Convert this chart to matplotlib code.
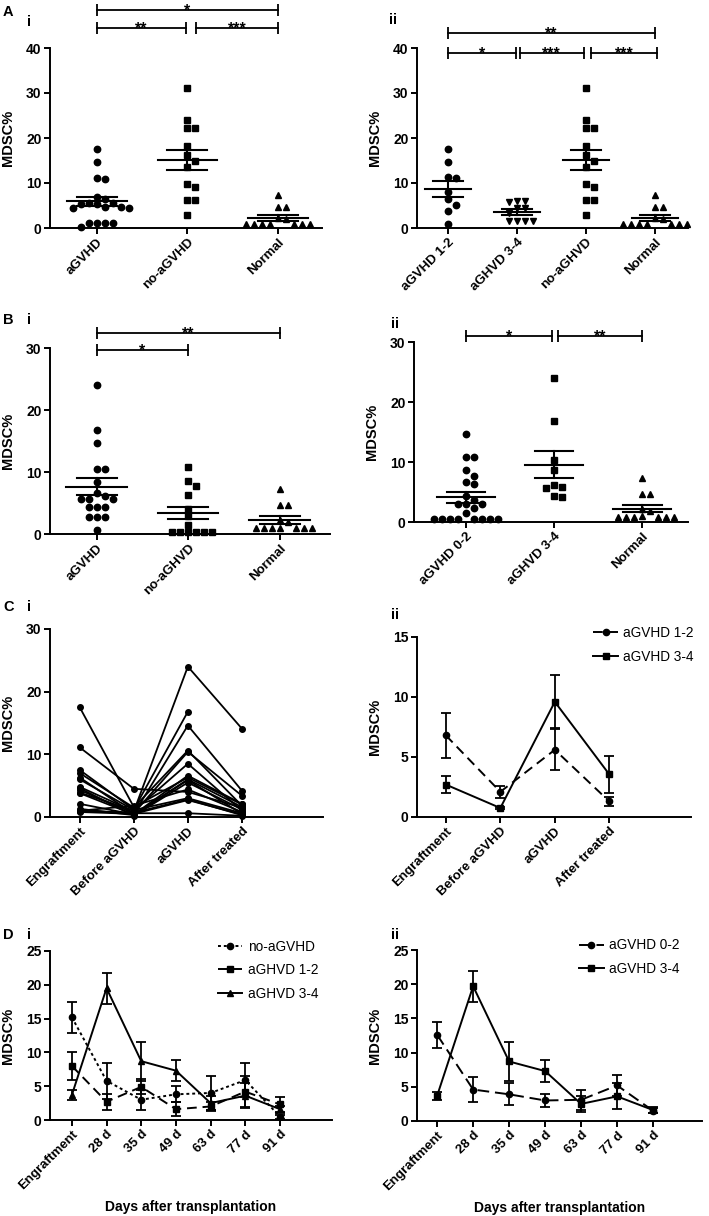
# %%
# Imports
import numpy as np
import matplotlib
matplotlib.use("Agg")
import matplotlib.pyplot as plt

plt.rcParams["font.family"] = ["Liberation Sans", "DejaVu Sans"]
plt.rcParams["font.weight"] = "bold"
plt.rcParams["axes.labelweight"] = "bold"

# %%
# Data (MDSC %)
# A i / A ii
a_cats = ["aGVHD", "no-aGVHD", "Normal"]
a_agvhd = [17.5, 14.6, 11.1, 10.8, 6.9, 6.5, 5.6, 5.5, 5.4, 5.3, 4.7, 4.6, 4.5, 4.4, 1.2, 1.2, 1.1, 1.1, 0.3]
a_no_agvhd = [31.1, 24.0, 22.2, 22.2, 18.3, 16.2, 14.8, 13.6, 9.7, 9.1, 6.3, 6.3, 2.8]
normal = [7.3, 4.6, 4.6, 2.2, 1.9, 1.0, 0.9, 0.9, 0.9, 0.9, 0.9, 0.9]

a2_cats = ["aGVHD 1-2", "aGHVD 3-4", "no-aGHVD", "Normal"]
a2_grade12 = [17.6, 14.6, 11.3, 11.1, 8.1, 6.4, 5.2, 3.7, 0.9]
a2_grade34 = [6.1, 6.1, 5.7, 4.4, 4.4, 3.3, 1.5, 1.5, 1.5, 1.5]

# B i / B ii
b_cats = ["aGVHD", "no-aGHVD", "Normal"]
b_agvhd = [24.0, 16.8, 14.6, 10.5, 10.5, 8.4, 6.6, 6.2, 5.7, 5.7, 5.7, 4.4, 4.4, 4.4, 2.8, 2.8, 2.8, 0.6]
b_no_agvhd = [10.8, 8.6, 7.7, 6.3, 4.0, 2.9, 1.5, 0.4, 0.4, 0.4, 0.4, 0.4, 0.4]

b2_cats = ["aGVHD 0-2", "aGHVD 3-4", "Normal"]
b2_grade02 = [14.6, 10.8, 10.8, 8.6, 7.7, 6.6, 6.4, 4.4, 3.7, 3.0, 3.0, 3.0, 2.4, 1.5,
              0.5, 0.5, 0.5, 0.5, 0.5, 0.5, 0.5, 0.5]
b2_grade34 = [24.0, 16.8, 10.3, 8.6, 6.2, 5.8, 5.6, 4.4, 4.1]

# C i: individual patients at four time points
c_cats = ["Engraftment", "Before aGVHD", "aGVHD", "After treated"]
c_engraft = [17.5, 11.1, 7.5, 7.0, 6.3, 4.8, 4.3, 3.9, 2.1, 1.3, 1.0, 0.9, 4.6, 6.0, 1.1, 3.8, 0.8]
c_before = [1.6, 4.5, 1.2, 1.5, 0.5, 0.9, 0.6, 1.0, 0.4, 0.3, 1.8, 0.7, 0.2, 1.1, 0.6, 0.4, 0.5]
c_agvhd = [6.3, 4.0, 16.8, 10.6, 14.6, 24.0, 10.4, 8.5, 6.6, 5.9, 4.4, 2.8, 5.5, 3.0, 0.6, 6.0, 2.7]
c_after = [2.0, 1.5, np.nan, 1.8, 4.2, 14.1, 3.4, 1.0, 2.1, 0.5, 0.8, 0.3, 1.2, 0.6, 0.2, 1.6, 0.4]

# C ii: mean +/- SEM
c12_mean = [6.8, 2.1, 5.6, 1.3]
c12_sem = [1.9, 0.5, 1.7, 0.4]
c34_mean = [2.7, 0.75, 9.6, 3.55]
c34_sem = [0.7, 0.1, 2.2, 1.55]

# D i / D ii: mean +/- SEM over time
d_days = ["Engraftment", "28 d", "35 d", "49 d", "63 d", "77 d", "91 d"]
d_no_mean = [15.2, 5.8, 3.0, 3.8, 4.0, 5.9, 0.5]
d_no_sem = [2.3, 2.7, 1.5, 1.2, 2.5, 2.5, 0.3]
d12_mean = [8.0, 2.7, 4.9, 1.6, 2.0, 4.2, 2.3]
d12_sem = [2.1, 1.2, 1.1, 1.0, 0.6, 2.3, 1.1]
d34_mean = [3.7, 19.5, 8.7, 7.3, 2.5, 3.6, 1.6]
d34_sem = [0.7, 2.3, 2.9, 1.6, 1.0, 1.8, 0.5]

d02_mean = [12.6, 4.6, 3.9, 3.0, 3.1, 5.2, 1.5]
d02_sem = [1.9, 1.8, 1.6, 0.9, 1.5, 1.5, 0.4]
d34b_mean = [3.7, 19.7, 8.7, 7.3, 2.5, 3.6, 1.6]
d34b_sem = [0.6, 2.3, 2.9, 1.6, 1.2, 1.9, 0.4]

# %%
# Helpers
W, H = 709, 1216
fig = plt.figure(figsize=(W / 100, H / 100), dpi=100)


def pos(l, t, r, b):
    # pixel box -> figure fraction
    return [l / W, 1 - b / H, (r - l) / W, (b - t) / H]


def style(ax, ymax, ystep, xlim, labels):
    ax.spines[["top", "right"]].set_visible(False)
    for s in ["left", "bottom"]:
        ax.spines[s].set_linewidth(1.4)
    ax.tick_params(width=1.4, length=4, pad=2)
    ax.tick_params(axis="x", labelsize=9.5)
    ax.tick_params(axis="y", labelsize=10)
    ax.set_ylim(0, ymax)
    ax.set_yticks(np.arange(0, ymax + 1, ystep))
    ax.set_xlim(*xlim)
    ax.set_xticks(range(len(labels)))
    ax.set_xticklabels(labels, rotation=45, ha="right", rotation_mode="anchor")
    ax.set_ylabel("MDSC%", fontsize=10.5)
    # right edge of the label sits ~35 px left of the axis
    ax.yaxis.set_label_coords(-35 / (ax.get_position().width * W), 0.5)


def swarm(vals, ppu_x, ppu_y, d=8.0):
    # simple beeswarm: put each point at the nearest free slot
    placed, xs = [], []
    for v in vals:
        k, found = 0, None
        while found is None:
            for c in ([0] if k == 0 else [k, -k]):
                x = c * d
                if all((x - px) ** 2 + ((v - pv) * ppu_y) ** 2 >= (0.8 * d) ** 2 for px, pv in placed):
                    found = x
                    break
            k += 1
        placed.append((found, v))
        xs.append(found / ppu_x)
    return np.array(xs)


def column_scatter(ax, groups, markers, sizes):
    bb = ax.get_position()
    x0, x1 = ax.get_xlim()
    y0, y1 = ax.get_ylim()
    ppu_x = bb.width * W / (x1 - x0)
    ppu_y = bb.height * H / (y1 - y0)
    for i, (vals, m, ms) in enumerate(zip(groups, markers, sizes)):
        vals = np.array(vals)
        offs = swarm(vals, ppu_x, ppu_y)
        ax.plot(i + offs, vals, ls="none", marker=m, ms=ms, color="k", clip_on=False, zorder=3)
        mean = vals.mean()
        sem = vals.std(ddof=1) / np.sqrt(len(vals))
        ax.plot([i - 0.33, i + 0.33], [mean, mean], color="k", lw=1.5, zorder=4)
        for yy in (mean - sem, mean + sem):
            ax.plot([i - 0.22, i + 0.22], [yy, yy], color="k", lw=1.5, zorder=4)
        ax.plot([i, i], [mean - sem, mean + sem], color="k", lw=1.5, zorder=4)


def bracket(ax, x1, x2, y, text):
    ax.plot([x1, x2], [y, y], color="k", lw=1.3, marker="|", ms=8, mew=1.3, clip_on=False)
    ax.annotate(text, ((x1 + x2) / 2, y), xytext=(0, -4), textcoords="offset points",
                ha="center", va="baseline", fontsize=11.5, annotation_clip=False)


def panel_label(x, y, s):
    fig.text(x / W, 1 - y / H, s, fontsize=10.5, weight="bold", va="top", ha="left")


def mean_line(ax, means, sems, ls, marker, label, ms=4.5):
    xs = np.arange(len(means))
    ax.errorbar(xs, means, yerr=sems, fmt="none", ecolor="k", elinewidth=1.3, capsize=3.5, capthick=1.3)
    ax.plot(xs, means, color="k", ls=ls, lw=1.4, marker=marker, ms=ms, label=label)


def legend(ax, x, y):
    ax.legend(loc="upper right", bbox_to_anchor=(x, y), frameon=False, handlelength=1.8,
              handletextpad=0.4, labelspacing=0.7, borderaxespad=0,
              prop={"weight": "normal", "size": 9.8})


# %%
# A i
ax = fig.add_axes(pos(50, 48, 322, 228))
style(ax, 40, 10, (-0.52, 2.49), a_cats)
column_scatter(ax, [a_agvhd, a_no_agvhd, normal], ["o", "s", "^"], [4.6, 4.4, 4.8])
bracket(ax, 0, 2, 48.4, "*")
bracket(ax, 0, 0.98, 44.4, "**")
bracket(ax, 1.1, 2, 44.4, "***")

# A ii
ax = fig.add_axes(pos(417, 48, 688, 228))
style(ax, 40, 10, (-0.45, 3.48), a2_cats)
column_scatter(ax, [a2_grade12, a2_grade34, a_no_agvhd, normal], ["o", "v", "s", "^"], [4.6, 4.8, 4.4, 4.8])
bracket(ax, 0, 3, 43.3, "**")
bracket(ax, 0, 0.98, 38.9, "*")
bracket(ax, 1.04, 1.97, 38.9, "***")
bracket(ax, 2.07, 3.03, 38.9, "***")

# B i
ax = fig.add_axes(pos(50, 348, 330, 534))
style(ax, 30, 10, (-0.51, 2.55), b_cats)
column_scatter(ax, [b_agvhd, b_no_agvhd, normal], ["o", "s", "^"], [4.6, 4.4, 4.8])
bracket(ax, 0, 2, 32.4, "**")
bracket(ax, 0, 1, 29.7, "*")

# B ii
ax = fig.add_axes(pos(414, 342, 688, 522))
style(ax, 30, 10, (-0.59, 2.52), b2_cats)
column_scatter(ax, [b2_grade02, b2_grade34, normal], ["o", "s", "^"], [4.6, 4.4, 4.8])
bracket(ax, 0, 0.98, 31, "*")
bracket(ax, 1.04, 2, 31, "**")

# C i
ax = fig.add_axes(pos(50, 629, 323, 817))
style(ax, 30, 10, (-0.55, 4.5), c_cats)
for row in zip(c_engraft, c_before, c_agvhd, c_after):
    ax.plot(range(4), row, color="k", lw=1.3, marker="o", ms=4, clip_on=False)

# C ii
ax = fig.add_axes(pos(417, 637, 691, 817))
style(ax, 15, 5, (-0.53, 4.5), c_cats)
mean_line(ax, c12_mean, c12_sem, (0, (5, 3)), "o", "aGVHD 1-2")
mean_line(ax, c34_mean, c34_sem, "-", "s", "aGVHD 3-4")
legend(ax, 1.03, 1.09)

# D i
ax = fig.add_axes(pos(50, 951, 332, 1120))
style(ax, 25, 5, (-0.63, 7.5), d_days)
mean_line(ax, d_no_mean, d_no_sem, (0, (1.5, 1.5)), "o", "no-aGVHD")
mean_line(ax, d12_mean, d12_sem, (0, (5, 3)), "s", "aGHVD 1-2")
mean_line(ax, d34_mean, d34_sem, "-", "^", "aGHVD 3-4")
ax.set_xlabel("Days after transplantation", fontsize=10, labelpad=6)
legend(ax, 0.97, 1.10)

# D ii
ax = fig.add_axes(pos(417, 950, 702, 1121))
style(ax, 25, 5, (-0.56, 7.36), d_days)
mean_line(ax, d02_mean, d02_sem, (0, (6, 3)), "o", "aGVHD 0-2")
mean_line(ax, d34b_mean, d34b_sem, "-", "s", "aGVHD 3-4")
ax.set_xlabel("Days after transplantation", fontsize=10, labelpad=6)
legend(ax, 0.94, 1.10)

# %%
# Panel letters
panel_label(3, 5, "A")
panel_label(27, 15, "i")
panel_label(389, 13, "ii")
panel_label(3, 313, "B")
panel_label(27, 313, "i")
panel_label(391, 317, "ii")
panel_label(3, 600, "C")
panel_label(27, 600, "i")
panel_label(391, 608, "ii")
panel_label(3, 928, "D")
panel_label(27, 928, "i")
panel_label(391, 928, "ii")

fig.savefig("out.png", dpi=100)
